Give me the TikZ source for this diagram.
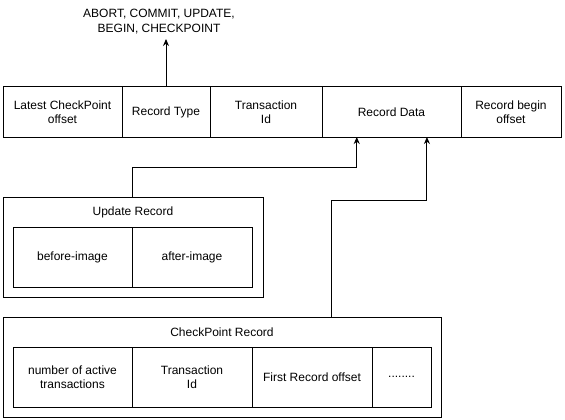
\documentclass[tikz,border=0pt]{standalone}
\usepackage{fontspec}
\setmainfont{Liberation Sans}
\usetikzlibrary{positioning,calc,arrows.meta}
\tikzset{
  field/.style      = {draw, line width=1pt, minimum height=50pt, inner sep=0pt,
                       outer sep=0pt, align=center, font=\fontsize{12}{14.4}\selectfont},
  infield/.style    = {field, minimum height=60pt},
  group/.style      = {draw, line width=1pt, minimum height=100pt, inner sep=0pt,
                       outer sep=0pt, anchor=north west},
  grouptitle/.style = {inner sep=0pt, font=\fontsize{12}{14.4}\selectfont},
  link/.style       = {->, line width=1pt},
  >={Stealth[length=7pt,width=6pt]}
}
\newcommand{\DrawGroup}[4]{%
  % outer frame of the record
  \node[group, minimum width=#3] (#1) at #2 {};
  % record name (top)
  \node[grouptitle] (#1title) at ($(#1.north)+(0,-15)$) {#4};
}

\begin{document}
\begin{tikzpicture}[x=1pt,y=1pt]
    \useasboundingbox (0,0) rectangle (565,-420);

    % log record layout
    \node[field, minimum width=119pt, anchor=north west] (lcp) at (3,-87)
    {Latest CheckPoint\\offset};
    \node[field, minimum width=88pt, right=0pt of lcp] (rtype) {Record Type};
    \node[field, minimum width=112pt, right=0pt of rtype] (tid) {Transaction\\Id};
    \node[field, minimum width=139pt, right=0pt of tid] (rdata) {Record Data};
    \node[field, minimum width=100pt, right=0pt of rdata] (rbegin) {Record begin\\offset};

    \coordinate (typetip) at ($(rtype.north)+(0,48)$);
    \draw[link] (rtype.north) -- (typetip);
    \node[grouptitle, align=center, anchor=south] (typelabel) at ($(typetip)+(-7,5)$)
    {ABORT, COMMIT, UPDATE,\\BEGIN, CHECKPOINT};

    % update record
    \DrawGroup{upd}{(3,-197)}{260pt}{Update Record}
    \node[infield, minimum width=119pt, anchor=north west] (bimg) at (13,-227) {before-image};
    \node[infield, minimum width=120pt, right=0pt of bimg] (aimg) {after-image};

    % checkpoint record
    \DrawGroup{ckp}{(3,-317)}{438pt}{CheckPoint Record}
    \node[infield, minimum width=119pt, anchor=north west] (nact) at (13,-347)
    {number of active\\transactions};
    \node[infield, minimum width=120pt, right=0pt of nact] (ctid) {Transaction\\Id};
    \node[infield, minimum width=120pt, right=0pt of ctid] (frec) {First Record offset};
    \node[infield, minimum width=59pt, right=0pt of frec] (more) {........};

    % links into the record data
    \coordinate (updout) at (bimg.east |- upd.north);
    \coordinate (updin) at ($(rdata.south west)!0.25!(rdata.south east)$);
    \draw[link] (updout) -- ++(0,30) -| (updin);

    \coordinate (ckpout) at ($(ckp.north west)!0.75!(ckp.north east)$);
    \coordinate (ckpin) at ($(rdata.south west)!0.755!(rdata.south east)$);
    \draw[link] (ckpout) -- ++(0,117) -| (ckpin);
  \end{tikzpicture}
\end{document}
